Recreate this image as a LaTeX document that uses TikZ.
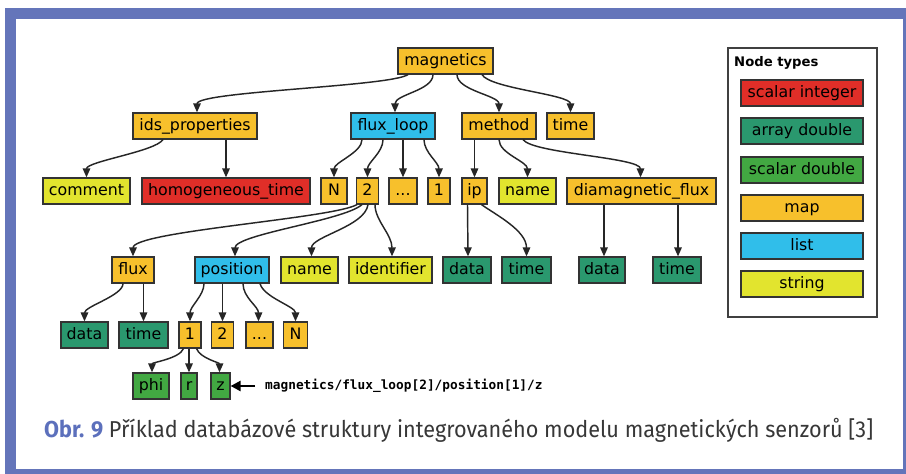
\documentclass[tikz,border=0pt]{standalone}
\usepackage{fontspec}
\usepackage{graphicx}
\setmainfont{DejaVu Sans}
\setmonofont{DejaVu Sans Mono}
\newfontfamily\capfont{Fira Sans}
\usetikzlibrary{arrows.meta}
\definecolor{mapc}{RGB}{247,192,44}
\definecolor{listc}{RGB}{48,190,234}
\definecolor{strc}{RGB}{226,228,46}
\definecolor{intc}{RGB}{224,46,40}
\definecolor{arrc}{RGB}{42,152,110}
\definecolor{sdc}{RGB}{66,168,66}
\definecolor{framec}{RGB}{100,117,186}
\definecolor{obrc}{RGB}{92,112,188}
\definecolor{capc}{RGB}{55,55,55}
\tikzset{
  box/.style={draw=black!80, line width=1.2pt, inner sep=0pt, minimum height=26pt,
    font=\fontsize{15.8}{18}\selectfont, text height=11.5pt, text depth=3.5pt},
  map/.style={box, fill=mapc},
  lst/.style={box, fill=listc},
  str/.style={box, fill=strc},
  sint/.style={box, fill=intc},
  adbl/.style={box, fill=arrc},
  sdbl/.style={box, fill=sdc},
  edge/.style={draw=black!85, line width=1.45pt, -{Triangle[length=9pt,width=7.5pt]}},
}
\begin{document}
\begin{tikzpicture}[x=1pt,y=-1pt]
\useasboundingbox (0,0) rectangle (906,474);
% frame
\fill[framec] (5,8) rectangle (906,474);
\fill[white] (16,19) rectangle (903,469);

% row 0
\node[map, minimum width=95pt] (mag) at (445.5,61) {magnetics};
% row 1
\node[map, minimum width=124pt] (idsp) at (195,126) {ids\_properties};
\node[lst, minimum width=84pt] (fl) at (393,126) {flux\_loop};
\node[map, minimum width=74pt] (meth) at (499,126) {method};
\node[map, minimum width=47pt] (timeA) at (570.5,126) {time};
% row 2
\node[str, minimum width=87pt] (comment) at (86.5,191) {comment};
\node[sint, minimum width=168pt] (homo) at (226,191) {homogeneous\_time};
\node[map, minimum width=26pt] (flN) at (334,191) {N};
\node[map, minimum width=22pt] (flTwo) at (367.5,191) {2};
\node[map, minimum width=28pt] (flDots) at (403,191) {...};
\node[map, minimum width=22pt] (flOne) at (439,191) {1};
\node[map, minimum width=25pt] (ip) at (474.5,191) {ip};
\node[str, minimum width=57pt] (nameA) at (527.5,191) {name};
\node[map, minimum width=149pt] (diam) at (641.5,191) {diamagnetic\_flux};
% row 3
\node[map, minimum width=42pt] (flux) at (133,270) {flux};
\node[lst, minimum width=74pt] (pos) at (232,270) {position};
\node[str, minimum width=57pt] (nameB) at (309.5,270) {name};
\node[str, minimum width=83pt] (ident) at (390.5,270) {identifier};
\node[adbl, minimum width=48pt] (dataA) at (467,270) {data};
\node[adbl, minimum width=49pt] (timeB) at (526.5,270) {time};
\node[adbl, minimum width=46pt] (dataB) at (602,270) {data};
\node[adbl, minimum width=48pt] (timeC) at (677,270) {time};
% row 4
\node[adbl, minimum width=47pt] (dataC) at (84.5,335) {data};
\node[adbl, minimum width=49pt] (timeD) at (143.5,335) {time};
\node[map, minimum width=22pt] (pOne) at (190,335) {1};
\node[map, minimum width=22pt] (pTwo) at (222.5,335) {2};
\node[map, minimum width=27pt] (pDots) at (259.5,335) {...};
\node[map, minimum width=24pt] (pN) at (295.5,335) {N};
% row 5
\node[sdbl, minimum width=36pt] (phi) at (151,386) {phi};
\node[sdbl, minimum width=16pt] (rr) at (189,386) {r};
\node[sdbl, minimum width=19pt] (zz) at (220.5,386) {z};
\node[anchor=west, inner sep=0pt, font=\ttfamily\bfseries\fontsize{12.8}{14}\selectfont] (path) at (265,386) {magnetics/flux\_loop[2]/position[1]/z};
\draw[line width=2.4pt, -{Triangle[length=10pt,width=10pt]}] ([xshift=-10pt]path.west) -- (zz.east);

% edges
\draw[edge] ([xshift=-37.5pt]mag.south) .. controls +(-18,12) and +(0,-21) .. ([xshift=2pt]idsp.north);
\draw[edge] ([xshift=-12.5pt]mag.south) .. controls +(0,16) and +(0,-18) .. ([xshift=2pt]fl.north);
\draw[edge] ([xshift=11.5pt]mag.south) .. controls +(0,16) and +(0,-17) .. (meth.north);
\draw[edge] ([xshift=36.5pt]mag.south) .. controls +(8,14) and +(0,-18) .. (timeA.north);

\draw[edge] ([xshift=-32pt]idsp.south) .. controls +(-8,12) and +(0,-16) .. (comment.north);
\draw[edge] (homo.north |- idsp.south) -- (homo.north);
\draw[edge] ([xshift=-31pt]fl.south) .. controls +(0,13) and +(0,-15) .. (flN.north);
\draw[edge] ([xshift=-10pt]fl.south) .. controls +(0,13) and +(0,-15) .. (flTwo.north);
\draw[edge] (flDots.north |- fl.south) -- (flDots.north);
\draw[edge] ([xshift=31pt]fl.south) .. controls +(0,13) and +(0,-15) .. (flOne.north);
\draw[edge] (ip.north |- meth.south) -- (ip.north);
\draw[edge] ([xshift=0pt]meth.south) .. controls +(0,14) and +(0,-16) .. (nameA.north);
\draw[edge] ([xshift=24pt]meth.south) .. controls +(10,14) and +(0,-20) .. ([xshift=-1pt]diam.north);

\draw[edge] ([xshift=-7pt]ip.south) -- ([xshift=-6.5pt]ip.south |- dataA.north);
\draw[edge] ([xshift=7pt]ip.south) .. controls +(14,10) and +(0,-26) .. (timeB.north);
\draw[edge] ([xshift=2pt]diam.south -| dataB.north) -- ([xshift=2pt]dataB.north);
\draw[edge] ([xshift=1pt]diam.south -| timeC.north) -- ([xshift=1pt]timeC.north);

\draw[edge] ([xshift=-10.5pt]flTwo.south) .. controls +(-25,14) and +(0,-25) .. (flux.north);
\draw[edge] ([xshift=-5.5pt]flTwo.south) .. controls +(-18,16) and +(0,-22) .. ([xshift=3pt]pos.north);
\draw[edge] ([xshift=0.5pt]flTwo.south) .. controls +(-3,22) and +(0,-20) .. ([xshift=2pt]nameB.north);
\draw[edge] ([xshift=7.5pt]flTwo.south) .. controls +(0,16) and +(0,-22) .. ([xshift=1.5pt]ident.north);

\draw[edge] ([xshift=-10pt]flux.south) .. controls +(0,12) and +(0,-15) .. (dataC.north);
\draw[edge] (timeD.north |- flux.south) -- (timeD.north);
\draw[edge] ([xshift=-28pt]pos.south) .. controls +(0,12) and +(0,-15) .. (pOne.north);
\draw[edge] (pTwo.north |- pos.south) -- (pTwo.north);
\draw[edge] ([xshift=11pt]pos.south) .. controls +(0,14) and +(0,-15) .. ([xshift=-1pt]pDots.north);
\draw[edge] ([xshift=28pt]pos.south) .. controls +(4,14) and +(0,-15) .. (pN.north);

\draw[edge] ([xshift=-6.5pt]pOne.south) .. controls +(-4,10) and +(0,-10) .. ([xshift=1pt]phi.north);
\draw[edge] (rr.north |- pOne.south) -- (rr.north);
\draw[edge] ([xshift=6.5pt]pOne.south) .. controls +(4,10) and +(0,-10) .. ([xshift=-1pt]zz.north);

% legend
\node[draw=black!75, line width=1.3pt, minimum width=149pt, minimum height=269pt, inner sep=0pt] (legend) at (802.5,182.5) {};
\node[anchor=west, inner sep=0pt, font=\bfseries\fontsize{13.2}{15}\selectfont] (ltitle) at (734,63) {Node types};
\node[sint, minimum width=122pt] (lgInt) at (802,93) {scalar integer};
\node[adbl, minimum width=122pt] (lgArr) at (802,131) {array double};
\node[sdbl, minimum width=122pt] (lgSd) at (802,170) {scalar double};
\node[map, minimum width=122pt] (lgMap) at (802,208) {map};
\node[lst, minimum width=122pt] (lgList) at (802,246) {list};
\node[str, minimum width=122pt] (lgStr) at (802,284) {string};

% caption
\node[anchor=base west, inner sep=0pt, font=\capfont\fontsize{23}{26}\selectfont] (cap) at (44,437)
  {\resizebox{829pt}{\height}{{\color{obrc}\bfseries Obr. 9} \color{capc}Příklad databázové struktury integrovaného modelu magnetických senzorů [3]}};
\end{tikzpicture}
\end{document}
